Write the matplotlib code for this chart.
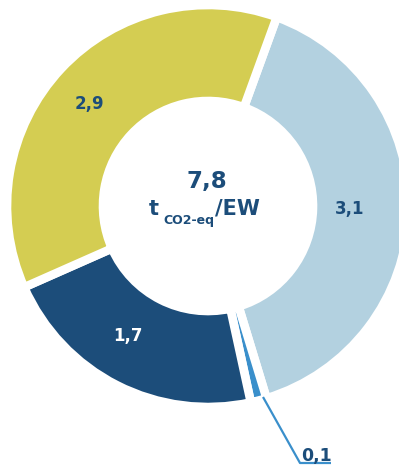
import matplotlib
matplotlib.use("Agg")
import matplotlib.pyplot as plt

# Data
labels = ["3,1", "0,1", "1,7", "2,9"]
values = [3.1, 0.1, 1.7, 2.9]
colors = ["#b3d1e0", "#3a8fcb", "#1c4d7a", "#d4cd52"]
total_label = "7,8"

W, H = 399, 466
fig = plt.figure(figsize=(W / 100, H / 100), dpi=100)
ax = fig.add_axes([0, 0, 1, 1])

def P(x, y):
    return (x, H - y)

cx, cy = P(208, 206)
R = 201
wedges, _ = ax.pie(values, colors=colors, startangle=70, counterclock=False,
                   radius=R, center=(cx, cy), explode=[0, 0, 0.015, 0],
                   wedgeprops=dict(width=96, edgecolor="white", linewidth=6.2))
ax.set_xlim(0, W)
ax.set_ylim(0, H)
ax.set_aspect("equal")
ax.axis("off")

navy = "#1c4d7a"
font = "DejaVu Sans"

# slice labels
ax.text(*P(89, 104), labels[3], ha="center", va="center", color=navy,
        fontsize=12, fontweight="bold", family=font)
ax.text(*P(350, 209), labels[0], ha="center", va="center", color=navy,
        fontsize=12, fontweight="bold", family=font)
ax.text(*P(128, 336), labels[2], ha="center", va="center", color="white",
        fontsize=12, fontweight="bold", family=font)

# leader for small slice
ax.plot([P(263, 397)[0], P(300, 463)[0], P(331, 463)[0]],
        [P(263, 397)[1], P(300, 463)[1], P(331, 463)[1]],
        color="#3a8fcb", lw=1.6, solid_capstyle="butt")
ax.text(*P(317, 461), labels[1], ha="center", va="baseline", color=navy,
        fontsize=12.5, fontweight="bold", family=font)

# center text
ax.text(*P(207, 188), total_label, ha="center", va="baseline", color=navy,
        fontsize=16.5, fontweight="bold", family=font)
ax.text(*P(159, 215), "t", ha="right", va="baseline", color=navy,
        fontsize=15, fontweight="bold", family=font)
ax.text(*P(163, 224), "CO2-eq", ha="left", va="baseline", color=navy,
        fontsize=9, fontweight="bold", family=font)
ax.text(*P(215, 215), "/EW", ha="left", va="baseline", color=navy,
        fontsize=15, fontweight="bold", family=font)

fig.savefig("out.png", dpi=100)
